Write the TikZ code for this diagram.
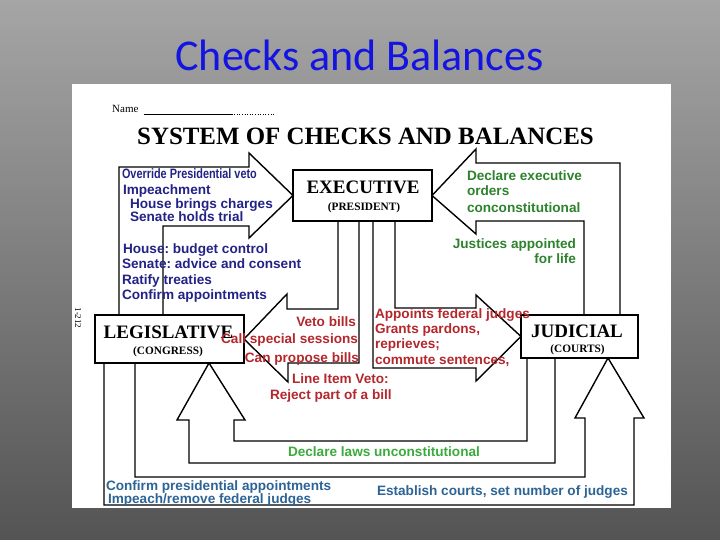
\documentclass[tikz,border=0pt]{standalone}
\usepackage{fontspec}
\setmainfont{Liberation Serif}
\newfontfamily\sansA{Liberation Sans}
\newfontfamily\calib{Carlito}
\usetikzlibrary{calc}
\frenchspacing
\definecolor{bgtop}{RGB}{165,165,165}
\definecolor{bgbot}{RGB}{84,84,84}
\definecolor{titleblue}{RGB}{20,20,225}
\definecolor{navy}{RGB}{35,35,135}
\definecolor{darkgreen}{RGB}{45,130,45}
\definecolor{lightgreen}{RGB}{60,170,60}
\definecolor{darkred}{RGB}{180,40,45}
\definecolor{steel}{RGB}{45,100,150}
\begin{document}
\begin{tikzpicture}[x=1pt,y=-1pt,
  branch/.style={draw=black, line width=1.8pt, fill=white, inner sep=0pt, outer sep=0pt},
  blockarrow/.style={draw=black, line width=1.4pt, line join=miter},
  boxtitle/.style={inner sep=0pt, outer sep=0pt, font=\bfseries\fontsize{19}{19}\selectfont},
  boxsub/.style={inner sep=0pt, outer sep=0pt, font=\bfseries\fontsize{11.3}{11.3}\selectfont},
  lbl/.style={inner sep=0pt, outer sep=0pt, font=\sansA\bfseries\fontsize{13.6}{13.6}\selectfont\frenchspacing},
  congress/.style={lbl, text=navy},
  court/.style={lbl, text=darkgreen},
  president/.style={lbl, text=darkred},
  shared/.style={lbl, text=steel}
]
\useasboundingbox (0,0) rectangle (720,540);
\shade[top color=bgtop, bottom color=bgbot] (0,0) rectangle (720,540);
\node[inner sep=0pt, anchor=base, text=titleblue, font=\calib\fontsize{44}{44}\selectfont] (title) at (359.5,71) {Checks and Balances};
\fill[white] (72,84) rectangle (671,508);

% header of the worksheet
\node[inner sep=0pt, anchor=base west, font=\fontsize{11}{11}\selectfont] (name) at (112,113) {Name};
\draw[line width=0.6pt] ($(name.base east)+(5,1)$) -- ++(88,0) coordinate (nameend);
\draw[line width=0.6pt, dotted] (nameend) -- ++(43,0);
\node[inner sep=0pt, anchor=base, font=\bfseries\fontsize{24.9}{24.9}\selectfont] (head) at (365.5,145) {SYSTEM OF CHECKS AND BALANCES};
\node[inner sep=0pt, rotate=-90, font=\fontsize{9}{9}\selectfont] (pg) at (78,318) {1-212};

% branches
\node[branch, minimum width=139pt, minimum height=51pt] (exec) at (362.5,195.5) {};
\node[branch, minimum width=149pt, minimum height=48pt] (leg) at (169.5,339) {};
\node[branch, minimum width=117pt, minimum height=43pt] (jud) at (579.5,336.5) {};

% block arrows
% legislative -> executive
\draw[blockarrow] (119,0 |- leg.north) -- (119,167) -- (249,167) -- (249,153) -- (exec.west)
  -- (249,238) -- (249,226) -- (163,226) -- (163,0 |- leg.north);
% executive -> legislative
\draw[blockarrow] (338,0 |- exec.south) -- (338,309) -- (287,309) -- (287,294) -- (leg.east)
  -- (288,382) -- (288,363) -- (359,363) -- (359,0 |- exec.south);
% executive -> judicial
\draw[blockarrow] (395,0 |- exec.south) -- (395,308) -- (476,308) -- (476,295) -- (jud.west)
  -- (476,381) -- (476,368) -- (373,368) -- (373,0 |- exec.south);
% judicial -> executive
\draw[blockarrow] (620,0 |- jud.north) -- (620,163) -- (476,163) -- (476,149) -- (exec.east)
  -- (476,234) -- (476,221) -- (584,221) -- (584,0 |- jud.north);
% judicial -> legislative
\draw[blockarrow] (527,0 |- jud.south) -- (527,441) -- (234,441) -- (234,420) -- (245,420)
  -- (209,0 |- leg.south) -- (177,420) -- (189,420) -- (189,463) -- (555,463) -- (555,0 |- jud.south);
% legislative -> judicial
\draw[blockarrow] (104,0 |- leg.south) -- (104,505) -- (634,505) -- (634,418) -- (644,418)
  -- (608,0 |- jud.south) -- (575,418) -- (585,418) -- (585,477) -- (135,477) -- (135,0 |- leg.south);

% branch titles
\node[boxtitle, anchor=base] (execT) at (363,194) {EXECUTIVE};
\node[boxsub, anchor=base] (execS) at (364,211) {(PRESIDENT)};
\node[boxtitle, anchor=base] (legT) at (168.5,338) {LEGISLATIVE};
\node[boxsub, anchor=base] (legS) at (168,354) {(CONGRESS)};
\node[boxtitle, anchor=base] (judT) at (577,337) {JUDICIAL};
\node[boxsub, anchor=base] (judS) at (577.5,352) {(COURTS)};

% congress checks
\node[congress, anchor=base west] (c1) at (122,179) {\scalebox{0.8}[1]{Override Presidential veto}};
\node[congress, anchor=base west] (c2) at (123,195) {Impeachment};
\node[congress, anchor=base west] (c3) at (130,208) {House brings charges};
\node[congress, anchor=base west] (c4) at (130,222) {Senate holds trial};
\node[congress, anchor=base west] (c5) at (123,253) {House: budget control};
\node[congress, anchor=base west] (c6) at (122,268) {Senate: advice and consent};
\node[congress, anchor=base west] (c7) at (122,284) {Ratify treaties};
\node[congress, anchor=base west] (c8) at (122,299) {Confirm appointments};

% court checks
\node[court, anchor=base west] (j1) at (467,181) {Declare executive};
\node[court, anchor=base west] (j2) at (467,196) {orders};
\node[court, anchor=base west] (j3) at (467,213) {conconstitutional};
\node[court, anchor=base east] (j4) at (576,248) {Justices appointed};
\node[court, anchor=base east] (j5) at (576,263) {for life};
\node[lbl, text=lightgreen, anchor=base west] (j6) at (288,456) {Declare laws unconstitutional};

% president checks
\node[president, anchor=base east] (p1) at (356,326) {Veto bills};
\node[president, anchor=base east] (p2) at (358,343) {Call special sessions};
\node[president, anchor=base east] (p3) at (359,362) {Can propose bills};
\node[president, anchor=base west] (p4) at (292,383) {Line Item Veto:};
\node[president, anchor=base west] (p5) at (270,399) {Reject part of a bill};
\node[president, anchor=base west] (p6) at (375,318) {Appoints federal judges};
\node[president, anchor=base west] (p7) at (375,333) {Grants pardons,};
\node[president, anchor=base west] (p8) at (375,348) {reprieves;};
\node[president, anchor=base west] (p9) at (375,364) {commute sentences,};

% bottom checks
\node[shared, anchor=base west] (s1) at (106,490) {Confirm presidential appointments};
\node[shared, anchor=base west] (s2) at (108,503) {Impeach/remove federal judges};
\node[shared, anchor=base west] (s3) at (377,495) {Establish courts, set number of judges};
\end{tikzpicture}
\end{document}
